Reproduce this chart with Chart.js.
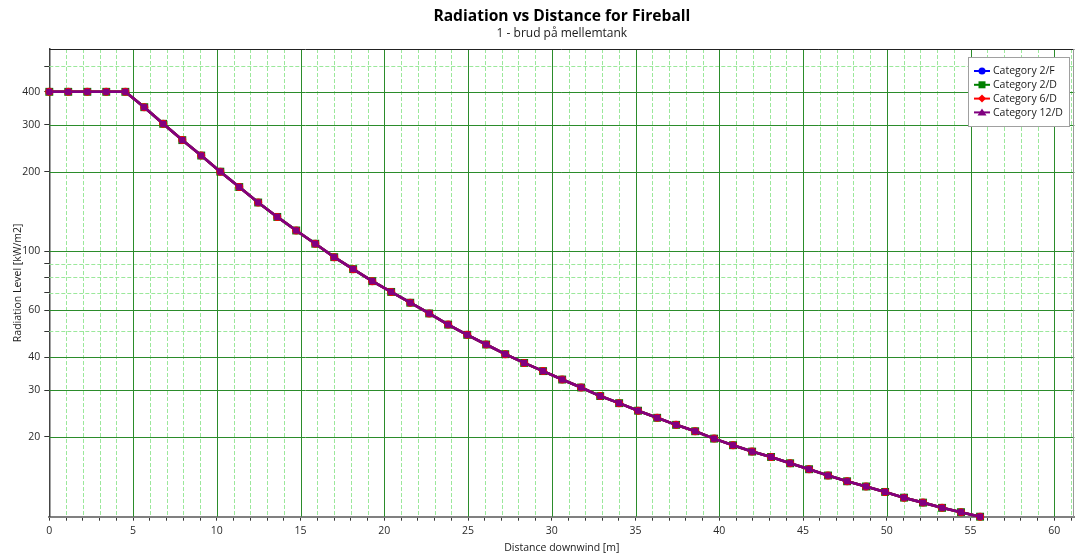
<!DOCTYPE html>
<html>
<head>
<meta charset="utf-8">
<script src="https://cdn.jsdelivr.net/npm/chart.js@4.4.1/dist/chart.umd.min.js"></script>
<style>
  html, body { margin: 0; padding: 0; background: #ffffff; }
  #wrap { width: 1080px; height: 559px; position: relative; }
</style>
</head>
<body>
<div id="wrap"><canvas id="c" width="1080" height="559"></canvas></div>
<script>
// ---------------- DATA ----------------
const seriesNames = ['Category 2/F', 'Category 2/D', 'Category 6/D', 'Category 12/D'];
const seriesColors = ['#0000ff', '#008000', '#ff0000', '#800080'];

const distances = [0, 1.13, 2.27, 3.40, 4.54, 5.67, 6.80, 7.94, 9.07, 10.21,
  11.34, 12.47, 13.61, 14.74, 15.88, 17.01, 18.14, 19.28, 20.41, 21.55,
  22.68, 23.81, 24.95, 26.08, 27.22, 28.35, 29.48, 30.62, 31.75, 32.89,
  34.02, 35.15, 36.29, 37.42, 38.56, 39.69, 40.82, 41.96, 43.09, 44.23,
  45.36, 46.49, 47.63, 48.76, 49.90, 51.03, 52.16, 53.30, 54.43, 55.57];

const cat2F = [400, 400, 400, 400, 400, 350, 303, 263, 230, 200,
  175, 153, 135, 120, 107, 95.2, 85.8, 77.3, 70.4, 64.1,
  58.4, 53.0, 48.5, 44.6, 41.0, 38.0, 35.4, 32.9, 30.7, 28.5,
  26.8, 25.1, 23.6, 22.2, 21.0, 19.7, 18.6, 17.6, 16.8, 15.9,
  15.1, 14.3, 13.6, 13.0, 12.4, 11.8, 11.3, 10.8, 10.4, 10.0];
const cat2D = [400, 400, 400, 400, 400, 350, 303, 263, 230, 200,
  175, 153, 135, 120, 107, 95.2, 85.8, 77.3, 70.4, 64.1,
  58.4, 53.0, 48.5, 44.6, 41.0, 38.0, 35.4, 32.9, 30.7, 28.5,
  26.8, 25.1, 23.6, 22.2, 21.0, 19.7, 18.6, 17.6, 16.8, 15.9,
  15.1, 14.3, 13.6, 13.0, 12.4, 11.8, 11.3, 10.8, 10.4, 10.0];
const cat6D = [400, 400, 400, 400, 400, 350, 303, 263, 230, 200,
  175, 153, 135, 120, 107, 95.2, 85.8, 77.3, 70.4, 64.1,
  58.4, 53.0, 48.5, 44.6, 41.0, 38.0, 35.4, 32.9, 30.7, 28.5,
  26.8, 25.1, 23.6, 22.2, 21.0, 19.7, 18.6, 17.6, 16.8, 15.9,
  15.1, 14.3, 13.6, 13.0, 12.4, 11.8, 11.3, 10.8, 10.4, 10.0];
const cat12D = [400, 400, 400, 400, 400, 350, 303, 263, 230, 200,
  175, 153, 135, 120, 107, 95.2, 85.8, 77.3, 70.4, 64.1,
  58.4, 53.0, 48.5, 44.6, 41.0, 38.0, 35.4, 32.9, 30.7, 28.5,
  26.8, 25.1, 23.6, 22.2, 21.0, 19.7, 18.6, 17.6, 16.8, 15.9,
  15.1, 14.3, 13.6, 13.0, 12.4, 11.8, 11.3, 10.8, 10.4, 10.0];

const xMin = 0, xMax = 61.2;
const xTickValues = [0,1,2,3,4,5,6,7,8,9,10,11,12,13,14,15,16,17,18,19,20,21,22,23,24,25,26,27,28,29,30,
  31,32,33,34,35,36,37,38,39,40,41,42,43,44,45,46,47,48,49,50,51,52,53,54,55,56,57,58,59,60,61];
const xMajorTicks = [0, 5, 10, 15, 20, 25, 30, 35, 40, 45, 50, 55, 60];
const yMin = 10, yMax = 580;
const yMajorTicks = [20, 30, 40, 60, 100, 200, 300, 400];
const yMinorTicks = [50, 70, 80, 90, 500];

const titleText = 'Radiation vs Distance for Fireball';
const subtitleText = '1 - brud på mellemtank';
const xTitle = 'Distance downwind [m]';
const yTitle = 'Radiation Level [kW/m2]';

// ---------------- STYLE ----------------
const FONT = "'Open Sans', 'Noto Sans', sans-serif";
const MAJOR_GRID = '#2b8c2b';
const MINOR_GRID = '#9be89b';

const allSeries = [cat2F, cat2D, cat6D, cat12D];
const plotStyles = [
  { pointStyle: 'circle', radius: 3.5, order: 3 },
  { pointStyle: 'rect', radius: 5.6, order: 2 },
  { pointStyle: 'circle', radius: 4, order: 1 },
  { pointStyle: 'rect', radius: 4.4, order: 0 }
];
const legendStyles = ['circle', 'rect', 'rectRot', 'triangle'];

const datasets = allSeries.map((vals, i) => ({
  label: seriesNames[i],
  data: distances.map((d, k) => ({ x: d, y: vals[k] })),
  borderColor: seriesColors[i],
  backgroundColor: seriesColors[i],
  borderWidth: 2.6,
  pointStyle: plotStyles[i].pointStyle,
  pointRadius: plotStyles[i].radius,
  pointBorderWidth: 0,
  pointBackgroundColor: seriesColors[i],
  order: plotStyles[i].order,
  clip: false,
  tension: 0
}));

const gridPlugin = {
  id: 'gridPlugin',
  beforeDatasetsDraw(chart) {
    const { ctx, chartArea: a, scales: { x, y } } = chart;
    ctx.save();
    ctx.lineWidth = 1;
    ctx.strokeStyle = MINOR_GRID;
    ctx.setLineDash([4, 2]);
    xTickValues.forEach(v => {
      if (xMajorTicks.includes(v)) return;
      const px = Math.round(x.getPixelForValue(v)) + 0.5;
      ctx.beginPath(); ctx.moveTo(px, a.top); ctx.lineTo(px, a.bottom); ctx.stroke();
    });
    yMinorTicks.forEach(v => {
      const py = Math.round(y.getPixelForValue(v)) + 0.5;
      ctx.beginPath(); ctx.moveTo(a.left, py); ctx.lineTo(a.right, py); ctx.stroke();
    });
    ctx.setLineDash([]);
    ctx.strokeStyle = MAJOR_GRID;
    xMajorTicks.forEach(v => {
      if (v === 0) return;
      const px = Math.round(x.getPixelForValue(v)) + 0.5;
      ctx.beginPath(); ctx.moveTo(px, a.top); ctx.lineTo(px, a.bottom); ctx.stroke();
    });
    yMajorTicks.forEach(v => {
      const py = Math.round(y.getPixelForValue(v)) + 0.5;
      ctx.beginPath(); ctx.moveTo(a.left, py); ctx.lineTo(a.right, py); ctx.stroke();
    });
    ctx.strokeStyle = '#222';
    ctx.beginPath(); ctx.moveTo(a.left, Math.round(a.top) + 0.5); ctx.lineTo(a.right, Math.round(a.top) + 0.5); ctx.stroke();
    ctx.strokeStyle = '#999';
    ctx.beginPath(); ctx.moveTo(Math.round(a.right) - 0.5, a.top); ctx.lineTo(Math.round(a.right) - 0.5, a.bottom); ctx.stroke();
    ctx.restore();
  }
};

function drawMarker(ctx, style, cx, cy, color) {
  ctx.fillStyle = color;
  ctx.beginPath();
  if (style === 'circle') {
    ctx.arc(cx, cy, 3.5, 0, Math.PI * 2);
  } else if (style === 'rect') {
    ctx.rect(cx - 3.5, cy - 3.5, 7, 7);
  } else if (style === 'rectRot') {
    ctx.moveTo(cx, cy - 4); ctx.lineTo(cx + 4, cy); ctx.lineTo(cx, cy + 4); ctx.lineTo(cx - 4, cy); ctx.closePath();
  } else {
    ctx.moveTo(cx, cy - 4); ctx.lineTo(cx + 4.5, cy + 3); ctx.lineTo(cx - 4.5, cy + 3); ctx.closePath();
  }
  ctx.fill();
}

const legendPlugin = {
  id: 'insideLegend',
  afterDraw(chart) {
    const { ctx } = chart;
    const bx = 968, by = 57, bw = 101, bh = 69;
    ctx.save();
    ctx.fillStyle = '#ffffff';
    ctx.fillRect(bx, by, bw, bh);
    ctx.strokeStyle = '#a0a0a0';
    ctx.lineWidth = 1;
    ctx.strokeRect(bx + 0.5, by + 0.5, bw, bh);
    ctx.font = '10.5px ' + FONT;
    ctx.textBaseline = 'middle';
    ctx.textAlign = 'left';
    seriesNames.forEach((name, i) => {
      const cy = by + 14 + i * 13.8;
      ctx.strokeStyle = seriesColors[i];
      ctx.lineWidth = 2;
      ctx.beginPath(); ctx.moveTo(974, cy); ctx.lineTo(990, cy); ctx.stroke();
      drawMarker(ctx, legendStyles[i], 982, cy, seriesColors[i]);
      ctx.fillStyle = '#1a1a1a';
      ctx.fillText(name, 993, cy + 0.5);
    });
    ctx.restore();
  }
};

new Chart(document.getElementById('c'), {
  type: 'line',
  data: { datasets },
  options: {
    responsive: false,
    animation: false,
    devicePixelRatio: 1,
    layout: { padding: { left: 0, right: 3, top: 0, bottom: 0 } },
    plugins: {
      legend: { display: false },
      tooltip: { enabled: false },
      title: {
        display: true, text: titleText, fullSize: false,
        color: '#000', font: { family: FONT, size: 15.6, weight: 'bold', lineHeight: 1.2 },
        padding: { top: 7, bottom: 0 }
      },
      subtitle: {
        display: true, text: subtitleText, fullSize: false,
        color: '#1a1a1a', font: { family: FONT, size: 12, lineHeight: 1.2 },
        padding: { top: 0.5, bottom: 8.4 }
      }
    },
    scales: {
      x: {
        type: 'linear', min: xMin, max: xMax,
        afterBuildTicks(s) { s.ticks = xTickValues.map(v => ({ value: v })); },
        afterFit(s) { s.height = 42.3; },
        ticks: {
          autoSkip: false, maxRotation: 0, minRotation: 0, padding: 4,
          color: '#2a2a2a', font: { family: FONT, size: 10.5 },
          callback: v => (xMajorTicks.includes(v) ? String(v) : '')
        },
        grid: { drawOnChartArea: false, drawTicks: true, tickLength: 4, tickColor: '#333', tickWidth: 1 },
        border: { display: true, color: '#808080', width: 2 },
        title: { display: true, text: xTitle, color: '#1a1a1a', font: { family: FONT, size: 10.5, lineHeight: 1.2 }, padding: { top: 0, bottom: 4.5 } }
      },
      y: {
        type: 'logarithmic', min: yMin, max: yMax,
        afterBuildTicks(s) {
          s.ticks = yMajorTicks.concat(yMinorTicks).sort((a, b) => a - b).map(v => ({ value: v }));
        },
        afterFit(s) { s.width = 49.3; },
        ticks: {
          autoSkip: false, padding: 4,
          color: '#2a2a2a', font: { family: FONT, size: 10.5 },
          callback: v => (yMajorTicks.includes(v) ? String(v) : '')
        },
        grid: { drawOnChartArea: false, drawTicks: true, tickLength: 5, tickColor: '#333', tickWidth: 1 },
        border: { display: true, color: '#444', width: 1.5 },
        title: { display: true, text: yTitle, color: '#1a1a1a', font: { family: FONT, size: 10.5, lineHeight: 1.2 }, padding: { top: 11.5, bottom: 0 } }
      }
    }
  },
  plugins: [gridPlugin, legendPlugin]
});
</script>
</body>
</html>
